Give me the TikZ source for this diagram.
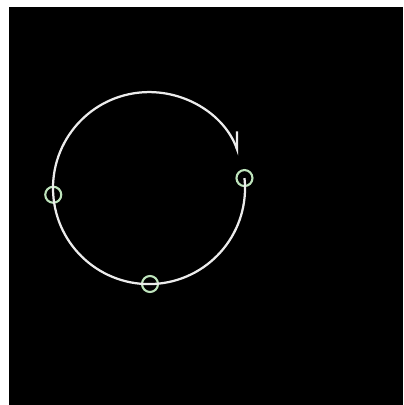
\documentclass[tikz,border=0pt]{standalone}
\usepackage{xcolor}
\usepackage{tikz}
\usetikzlibrary{arrows.meta, positioning, calc}
\definecolor{ringgreen}{RGB}{190, 228, 188}
\definecolor{arcwhite}{RGB}{236, 236, 236}

\begin{document}
\begin{tikzpicture}[
    x=0.025cm, y=0.025cm,
    ring/.style={circle, draw=ringgreen, line width=1.5pt, minimum size=0.4cm, inner sep=0pt},
    arcline/.style={draw=arcwhite, line width=1.6pt, -{Straight Barb[left, length=0.42cm, width=0.3cm]}}
]

% page and dark panel
\fill[white] (0, 0) rectangle (403, 405);
\fill[black] (9, 0) rectangle (403, 398);
\useasboundingbox (0, 0) rectangle (403, 405);

\coordinate (c) at (150, 217);

% markers on the circle
\node[ring] (mright) at ($(c)+(6:95)$) {};
\node[ring] (mbottom) at ($(c)+(270:96)$) {};
\node[ring] (mleft) at ($(c)+(184:97)$) {};

% the arc, clockwise
\draw[arcline] (mright.center) arc[start angle=6, end angle=-340, radius=96];

\end{tikzpicture}
\end{document}
